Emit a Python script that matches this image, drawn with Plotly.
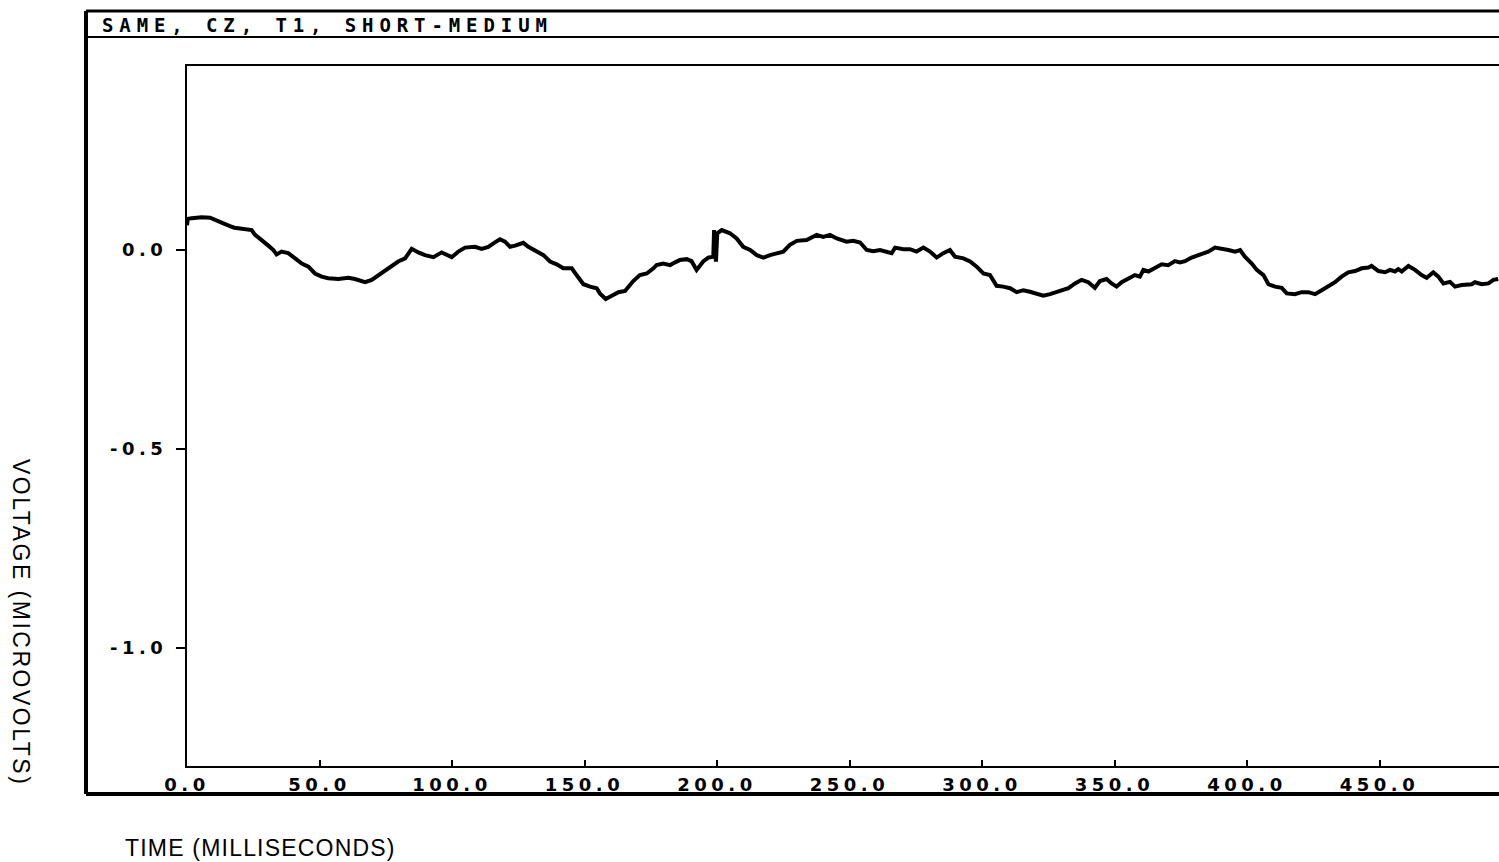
import plotly.graph_objects as go

# Averaged evoked potential trace, time in ms and amplitude in microvolts
time_ms = [
    0.0, 0.3, 1.8, 5.5, 8.7, 11.2, 13.7, 16.2, 17.9, 20.0, 24.4, 25.7, 28.2, 30.7,
    32.6, 33.8, 35.7, 38.2, 40.8, 43.3, 45.8, 48.3, 50.8, 53.3, 57.1, 60.9, 63.4,
    67.2, 69.7, 72.2, 74.7, 77.2, 79.7, 82.3, 84.8, 87.3, 89.8, 93.0, 96.1, 99.9,
    102.4, 104.9, 108.7, 111.2, 113.7, 116.2, 118.1, 120.0, 121.9, 123.8, 126.9,
    128.8, 131.3, 134.5, 137.0, 139.5, 142.0, 145.2, 147.0, 149.6, 152.1, 154.6,
    155.8, 158.0, 160.3, 162.8, 165.3,
    168.4, 170.9, 173.5, 176.0, 177.2, 179.7, 182.3, 184.2, 186.0, 188.6, 190.4,
    192.3, 194.8, 196.7, 198.6, 198.9, 199.6, 200.1, 201.8, 204.9, 207.4, 209.9,
    212.5, 215.0, 217.5, 220.0, 222.5, 225.0, 227.5, 230.1, 233.8, 237.6, 240.1,
    242.6, 245.2, 247.7, 248.9, 251.4, 254.0, 256.5, 259.0, 261.5, 264.0, 265.9,
    267.2, 270.3, 272.8, 275.3, 277.9, 280.4, 282.9, 285.4, 287.9, 289.8, 293.0,
    295.5, 298.0, 300.5, 303.0, 305.5, 308.0, 310.6, 313.1, 315.6, 318.1, 320.6,
    323.1, 325.7, 328.2,
    330.1, 332.6, 335.1, 337.6, 340.1, 342.6, 344.5, 347.0, 348.9, 350.8, 352.7,
    355.2, 357.7, 359.6, 360.9, 362.8, 365.3, 367.8, 370.3, 372.8, 374.7, 376.6,
    379.1, 381.0, 382.9, 385.4, 387.9, 390.4, 393.0, 395.5, 397.4, 399.2, 401.8,
    403.7, 406.2, 408.1, 410.6, 413.1, 415.0, 418.1, 420.6, 423.1, 425.7, 428.2,
    430.7, 433.2, 435.7, 438.2, 440.8, 443.3, 445.8, 447.0, 449.6, 452.1, 454.0,
    455.8, 457.1, 458.4, 460.9, 463.4, 465.9, 467.8, 470.3, 472.2, 474.1, 476.6,
    478.5, 481.0, 484.8, 486.0, 488.6, 491.1, 493.0, 494.8,
]
voltage_uv = [
    0.062, 0.078, 0.080, 0.082, 0.081, 0.075, 0.067, 0.060, 0.056, 0.054, 0.050,
    0.038, 0.023, 0.011, 0.000, -0.011, -0.004, -0.008, -0.021, -0.034, -0.042,
    -0.059, -0.067, -0.071, -0.073, -0.070, -0.073, -0.081, -0.075, -0.063, -0.050,
    -0.040, -0.029, -0.021, 0.003, -0.006, -0.013, -0.018, -0.006, -0.018, -0.004,
    0.006, 0.008, 0.003, 0.008, 0.019, 0.027, 0.021, 0.008, 0.011, 0.018, 0.008,
    0.000, -0.013, -0.029, -0.036, -0.046, -0.046, -0.063, -0.086, -0.092, -0.096,
    -0.109, -0.123, -0.115, -0.106, -0.103,
    -0.078, -0.063, -0.059, -0.046, -0.038, -0.034, -0.038, -0.031, -0.025, -0.023,
    -0.028, -0.050, -0.029, -0.019, -0.017, 0.050, -0.029, 0.042, 0.050, 0.042,
    0.029, 0.008, 0.000, -0.013, -0.019, -0.013, -0.008, -0.004, 0.013, 0.023,
    0.025, 0.038, 0.033, 0.038, 0.029, 0.025, 0.021, 0.023, 0.019, 0.000, -0.003,
    0.000, -0.004, -0.008, 0.006, 0.002, 0.002, -0.004, 0.006, -0.004, -0.019,
    -0.008, 0.000, -0.017, -0.021, -0.029, -0.042, -0.059, -0.063, -0.090, -0.092,
    -0.096, -0.106, -0.101, -0.105, -0.109, -0.115, -0.111, -0.106,
    -0.103, -0.096, -0.084, -0.075, -0.081, -0.095, -0.078, -0.073, -0.084, -0.092,
    -0.081, -0.073, -0.063, -0.067, -0.050, -0.054, -0.046, -0.036, -0.038, -0.028,
    -0.031, -0.028, -0.019, -0.014, -0.011, -0.004, 0.006, 0.004, 0.000, -0.004,
    0.000, -0.017, -0.034, -0.050, -0.063, -0.086, -0.092, -0.095, -0.109, -0.111,
    -0.106, -0.106, -0.111, -0.101, -0.092, -0.081, -0.067, -0.056, -0.053, -0.046,
    -0.044, -0.040, -0.053, -0.056, -0.050, -0.054, -0.048, -0.054, -0.040, -0.050,
    -0.063, -0.070, -0.056, -0.067, -0.084, -0.080, -0.092, -0.088, -0.086, -0.081,
    -0.086, -0.084, -0.075, -0.073,
]

x_ticks = [0, 50, 100, 150, 200, 250, 300, 350, 400, 450]
x_tick_labels = ["0.0", "50.0", "100.0", "150.0", "200.0", "250.0",
                 "300.0", "350.0", "400.0", "450.0"]
y_ticks = [0.0, -0.5, -1.0]
y_tick_labels = ["0.0", "-0.5", "-1.0"]

plot_title = "SAME, CZ, T1, SHORT-MEDIUM"
x_title = "TIME (MILLISECONDS)"
y_title = "VOLTAGE (MICROVOLTS)"

W, H = 1499, 862
L, R, T, B = 187, 0, 66, 96
PLOT_W = W - L - R
PLOT_H = H - T - B

MONO = "DejaVu Sans Mono"
BLOCK = "DejaVu Sans"
SANS = "Liberation Sans"


def spaced(text, gap, bold=False):
    inner = f"<b>{text}</b>" if bold else text
    return f'<span style="letter-spacing:{gap}px">{inner}</span>'


def px_to_paper(px, py):
    return (px - L) / PLOT_W, (H - B - py) / PLOT_H


fig = go.Figure()
fig.add_trace(go.Scatter(
    x=time_ms, y=voltage_uv, mode="lines",
    line=dict(color="black", width=4, shape="linear"),
    hoverinfo="skip", showlegend=False,
))

# Outer frame and the title band rule
x0, y0 = px_to_paper(86, 794)
x1, y1 = px_to_paper(1506, 11)
_, yband = px_to_paper(0, 37)
fig.add_shape(type="line", xref="paper", yref="paper", x0=x0, x1=x0, y0=y0, y1=y1,
              line=dict(color="black", width=4))
fig.add_shape(type="line", xref="paper", yref="paper", x0=x0, x1=x1, y0=y0, y1=y0,
              line=dict(color="black", width=4))
fig.add_shape(type="line", xref="paper", yref="paper", x0=x0, x1=x1, y0=y1, y1=y1,
              line=dict(color="black", width=3))
fig.add_shape(type="line", xref="paper", yref="paper", x0=x0, x1=x1, y0=yband, y1=yband,
              line=dict(color="black", width=2))

tx, ty = px_to_paper(100, 25)
fig.add_annotation(text=spaced(plot_title, 5.9, bold=True), x=tx, y=ty,
                   xref="paper", yref="paper",
                   xanchor="left", yanchor="middle", showarrow=False,
                   font=dict(family=MONO, size=19, color="black"))

vx, vy = px_to_paper(21, 622)
fig.add_annotation(text=spaced(y_title, 2.5), x=vx, y=vy, xref="paper", yref="paper",
                   textangle=90, xanchor="center", yanchor="middle", showarrow=False,
                   font=dict(family=SANS, size=23, color="black"))

hx, hy = px_to_paper(123, 848)
fig.add_annotation(text=spaced(x_title, 1.2), x=hx, y=hy, xref="paper", yref="paper",
                   xanchor="left", yanchor="middle", showarrow=False,
                   font=dict(family=SANS, size=23, color="black"))

fig.update_xaxes(
    range=[0, PLOT_W / 2.65], showgrid=False, zeroline=False,
    showline=True, linecolor="black", linewidth=2, mirror=True,
    tickmode="array", tickvals=x_ticks,
    ticktext=[spaced(t, 4.5, bold=True) for t in x_tick_labels],
    ticks="inside", ticklen=6, tickwidth=2, tickcolor="black",
    ticklabelstandoff=1,
    tickfont=dict(family=BLOCK, size=18, color="black"),
)
fig.update_yaxes(
    range=[(250 - 766) / 398, (250 - 66) / 398], showgrid=False, zeroline=False,
    showline=True, linecolor="black", linewidth=2, mirror=False,
    tickmode="array", tickvals=y_ticks,
    ticktext=[spaced(t, 4.5, bold=True) for t in y_tick_labels],
    ticks="outside", ticklen=9, tickwidth=2, tickcolor="black",
    ticklabelstandoff=5,
    tickfont=dict(family=BLOCK, size=18, color="black"),
)

fig.update_layout(
    width=W, height=H,
    margin=dict(l=L, r=R, t=T, b=B),
    paper_bgcolor="white", plot_bgcolor="white",
    showlegend=False,
)

fig.write_html("out.html")
